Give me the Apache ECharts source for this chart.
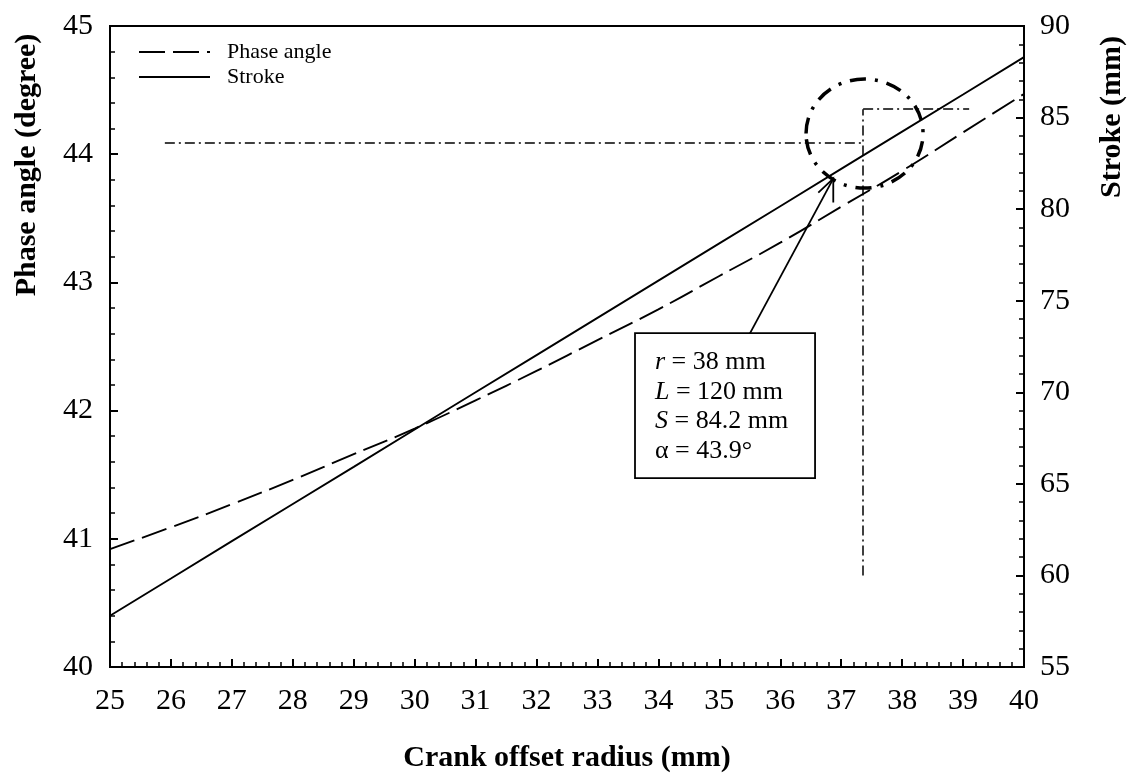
<!DOCTYPE html>
<html>
<head>
<meta charset="utf-8">
<script src="https://cdn.jsdelivr.net/npm/echarts@6/dist/echarts.min.js"></script>
<style>html,body{margin:0;padding:0;background:#fff}#c{width:1131px;height:773px}</style>
</head>
<body>
<div id="c"></div>
<script>
// ---- data ----
const radius = [25, 26, 27, 28, 29, 30, 31, 32, 33, 34, 35, 36, 37, 38, 39, 40];
const phaseAngle = [40.92, 41.09, 41.27, 41.46, 41.66, 41.86, 42.08, 42.31, 42.55, 42.79, 43.05, 43.31, 43.59, 43.87, 44.17, 44.47];
const stroke = [57.8, 59.83, 61.87, 63.9, 65.93, 67.97, 70.0, 72.03, 74.06, 76.1, 78.13, 80.16, 82.2, 84.23, 86.26, 88.3];
const seriesNames = ['Phase angle', 'Stroke'];
const axisTitles = ['Crank offset radius (mm)', 'Phase angle (degree)', 'Stroke (mm)'];
const noteLines = ['{i|r} = 38 mm', '{i|L} = 120 mm', '{i|S} = 84.2 mm', 'α = 43.9°'];
// guide lines (data coordinates)
const guideLeftH = [[25.9, 44.09], [37.36, 44.09]];      // on phase axis
const guideV = [[37.36, 60], [37.36, 85.46]];            // on stroke axis
const guideTopH = [[37.36, 85.46], [39.1, 85.46]];       // on stroke axis
const circleCenter = [37.383, 44.161];                   // phase axis
const arrowTail = [35.5, 42.6];
const arrowTip = [36.87, 43.81];
const boxCorners = [[33.616, 42.605], [36.571, 41.474]];

const FONT = 'Liberation Serif';
const chart = echarts.init(document.getElementById('c'), null, {renderer: 'canvas'});

const axisCommon = {
  axisLine: {show: true, onZero: false, lineStyle: {color: '#000', width: 2}},
  axisTick: {show: true, inside: true, length: 8, lineStyle: {color: '#000', width: 2}},
  minorTick: {show: true, splitNumber: 5, length: 5, lineStyle: {color: '#000', width: 1.5}},
  splitLine: {show: false},
  axisLabel: {color: '#000', fontFamily: FONT, fontSize: 30}
};

const guideStyle = {color: '#000', width: 1.5, type: [10, 4, 2, 4]};

const option = {
  animation: false,
  backgroundColor: '#fff',
  grid: {left: 110, right: 107, top: 26, bottom: 106, containLabel: false, outerBoundsMode: 'none',
    show: true, borderColor: '#000', borderWidth: 2, backgroundColor: 'transparent'},
  legend: {
    orient: 'vertical', left: 138, top: 41, padding: 0, itemWidth: 71, itemHeight: 14, itemGap: 3,
    itemStyle: {opacity: 0},
    textStyle: {fontFamily: FONT, fontSize: 22, color: '#000', padding: [0, 0, 0, 12]},
    data: seriesNames, selectedMode: false
  },
  xAxis: Object.assign({}, axisCommon, {
    type: 'value', min: 25, max: 40, interval: 1,
    axisLabel: Object.assign({}, axisCommon.axisLabel, {margin: 19}),
    name: axisTitles[0], nameLocation: 'middle', nameGap: 76,
    nameTextStyle: {fontFamily: FONT, fontSize: 30, fontWeight: 'bold', color: '#000'}
  }),
  yAxis: [
    Object.assign({}, axisCommon, {
      type: 'value', min: 40, max: 45, interval: 1, position: 'left',
      axisLabel: Object.assign({}, axisCommon.axisLabel, {margin: 17})
    }),
    Object.assign({}, axisCommon, {
      type: 'value', min: 55, max: 90, interval: 5, position: 'right',
      axisLabel: Object.assign({}, axisCommon.axisLabel, {margin: 16})
    })
  ],
  series: [
    {
      name: seriesNames[0], type: 'line', yAxisIndex: 0, symbol: 'none', smooth: true,
      data: radius.map((r, i) => [r, phaseAngle[i]]),
      lineStyle: {color: '#000', width: 1.9, type: [26, 8]},
      itemStyle: {color: '#000'},
      markLine: {
        silent: true, symbol: 'none', label: {show: false},
        lineStyle: guideStyle,
        data: [[{coord: guideLeftH[0]}, {coord: guideLeftH[1]}]]
      }
    },
    {
      name: seriesNames[1], type: 'line', yAxisIndex: 1, symbol: 'none',
      data: radius.map((r, i) => [r, stroke[i]]),
      lineStyle: {color: '#000', width: 1.9, type: 'solid'},
      itemStyle: {color: '#000'},
      markLine: {
        silent: true, symbol: 'none', label: {show: false},
        lineStyle: guideStyle,
        data: [
          [{coord: guideV[0]}, {coord: guideV[1]}],
          [{coord: guideTopH[0]}, {coord: guideTopH[1]}]
        ]
      }
    }
  ]
};
chart.setOption(option);

const P = (pt) => chart.convertToPixel({xAxisIndex: 0, yAxisIndex: 0}, pt);
const c = P(circleCenter);
const tail = P(arrowTail);
const tip = P(arrowTip);
const b0 = P(boxCorners[0]);
const b1 = P(boxCorners[1]);

chart.setOption({
  graphic: [
    {type: 'ellipse', shape: {cx: c[0], cy: c[1], rx: 58.5, ry: 54.5}, silent: true,
      style: {fill: 'none', stroke: '#000', lineWidth: 3.5, lineDash: [16, 9, 3, 9]}},
    {type: 'line', shape: {x1: tail[0], y1: tail[1], x2: tip[0], y2: tip[1]}, silent: true,
      style: {stroke: '#000', lineWidth: 1.8}},
    {type: 'polyline', shape: {points: [[tip[0] - 15, tip[1] + 14], [tip[0], tip[1]], [tip[0], tip[1] + 24]]}, silent: true,
      style: {fill: 'none', stroke: '#000', lineWidth: 1.8}},
    {type: 'rect', shape: {x: b0[0], y: b0[1], width: b1[0] - b0[0], height: b1[1] - b0[1]}, silent: true,
      style: {fill: '#fff', stroke: '#000', lineWidth: 1.8}},
    {type: 'text', x: b0[0] + 20, y: (b0[1] + b1[1]) / 2 + 1, silent: true,
      style: {text: noteLines.join('\n'), fontFamily: FONT, fontSize: 26, lineHeight: 29.5, fill: '#000',
        align: 'left', verticalAlign: 'middle',
        rich: {i: {fontFamily: FONT, fontSize: 26, fontStyle: 'italic', lineHeight: 29.5, fill: '#000'}}}},
    {type: 'text', x: 27, y: 165, rotation: Math.PI / 2, silent: true,
      style: {text: axisTitles[1], fontFamily: FONT, fontSize: 30, fontWeight: 'bold', fill: '#000', align: 'center', verticalAlign: 'middle'}},
    {type: 'text', x: 1112, y: 117, rotation: Math.PI / 2, silent: true,
      style: {text: axisTitles[2], fontFamily: FONT, fontSize: 30, fontWeight: 'bold', fill: '#000', align: 'center', verticalAlign: 'middle'}}
  ]
});
</script>
</body>
</html>
